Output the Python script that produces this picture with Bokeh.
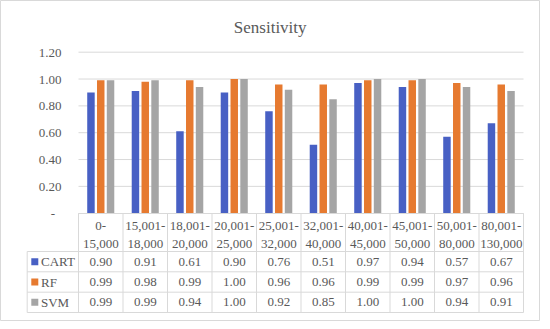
import numpy as np
from bokeh.plotting import figure
from bokeh.models import Range1d, FixedTicker, LinearAxis, NumeralTickFormatter
from bokeh.core.properties import value
from bokeh.embed import file_html
from bokeh.resources import INLINE

# ---------------- data ----------------
categories = ["0-\n15,000", "15,001-\n18,000", "18,001-\n20,000", "20,001-\n25,000",
              "25,001-\n32,000", "32,001-\n40,000", "40,001-\n45,000", "45,001-\n50,000",
              "50,001-\n80,000", "80,001-\n130,000"]
models = ["CART", "RF", "SVM"]
cart = [0.90, 0.91, 0.61, 0.90, 0.76, 0.51, 0.97, 0.94, 0.57, 0.67]
rf = [0.99, 0.98, 0.99, 1.00, 0.96, 0.96, 0.99, 0.99, 0.97, 0.96]
svm = [0.99, 0.99, 0.94, 1.00, 0.92, 0.85, 1.00, 1.00, 0.94, 0.91]
y_ticks = [0.0, 0.2, 0.4, 0.6, 0.8, 1.0, 1.2]
title_text = "Sensitivity"

# ---------------- style ----------------
colors = ["#4860C4", "#E67A30", "#A5A5A5"]
TXT = "#595959"
GRID = "#D9D9D9"
FONT = "Liberation Serif"

W, H = 540, 321
PX_CAT = 44.5      # px per category
X0_PX = 78.0       # px of left edge of first category
Y0_PX = 212.7      # px of value 0
PX_UNIT = 134.17   # px per 1.0 of value


def xd(px):
    return (px - X0_PX) / PX_CAT


def yd(px):
    return (Y0_PX - px) / PX_UNIT


n = len(categories)
p = figure(width=W, height=H, x_range=Range1d(xd(0), xd(W)), y_range=Range1d(yd(H), yd(0)),
           output_backend="svg", toolbar_location=None, x_axis_type=None, y_axis_type=None,
           min_border=0, outline_line_color=GRID, background_fill_color="white",
           border_fill_color="white")

xs = np.arange(n) + 0.5

# gridlines
gy = [t for t in y_ticks if t > 0]
p.segment(x0=0, x1=n, y0=gy, y1=gy, line_color=GRID, line_width=1)

# bars
offsets = [-0.22, 0.0, 0.22]
for vals, off, c in zip([cart, rf, svm], offsets, colors):
    p.vbar(x=xs + off, top=vals, width=0.168, fill_color=c, line_color=None)

# y axis
yax = LinearAxis(ticker=FixedTicker(ticks=y_ticks), formatter=NumeralTickFormatter(format="0.00"),
                 fixed_location=0, axis_line_color=None, major_tick_line_color=None,
                 minor_tick_line_color=None, major_tick_in=0, major_tick_out=0,
                 major_label_standoff=17, major_label_text_font=FONT,
                 major_label_text_font_size="13px", major_label_text_color=TXT,
                 major_label_overrides={0: "-\u00a0\u00a0"})
p.add_layout(yax, "left")

# x axis (table header)
xax = LinearAxis(ticker=FixedTicker(ticks=list(xs)), fixed_location=0, bounds=(0, n),
                 axis_line_color=GRID, major_tick_line_color=None, minor_tick_line_color=None,
                 major_tick_in=0, major_tick_out=0, major_label_standoff=5,
                 major_label_overrides={float(x): c for x, c in zip(xs, categories)},
                 major_label_text_font=FONT, major_label_text_font_size="13px",
                 major_label_text_color=TXT)
p.add_layout(xax, "below")

# table lines
legend_left = xd(26.7)
hy = [yd(251), yd(271.3), yd(291.7), yd(312)]
p.segment(x0=legend_left, x1=n, y0=hy, y1=hy, line_color=GRID, line_width=1)
vx = list(range(n + 1))
p.segment(x0=vx, x1=vx, y0=0, y1=hy[-1], line_color=GRID, line_width=1)
p.segment(x0=legend_left, x1=legend_left, y0=hy[0], y1=hy[-1], line_color=GRID, line_width=1)

# table values and legend
row_c = [(hy[i] + hy[i + 1]) / 2 for i in range(3)]
for vals, yc, c, name in zip([cart, rf, svm], row_c, colors, models):
    p.text(x=xs, y=[yc] * n, text=[f"{v:.2f}" for v in vals], text_align="center",
           text_baseline="middle", text_font=value(FONT), text_font_size="13px", text_color=TXT)
    p.scatter(x=[xd(34.3)], y=[yc], marker="square", size=7, fill_color=c, line_color=None)
    p.text(x=[xd(40.5)], y=[yc], text=[name], text_align="left", text_baseline="middle",
           text_font=value(FONT), text_font_size="13px", text_color=TXT)

# title
p.text(x=[xd(269.7)], y=[yd(26.5)], text=[title_text], text_align="center", text_baseline="middle",
       text_font=value(FONT), text_font_size="17px", text_color=TXT)

open("out.html", "w").write(file_html(p, INLINE))
